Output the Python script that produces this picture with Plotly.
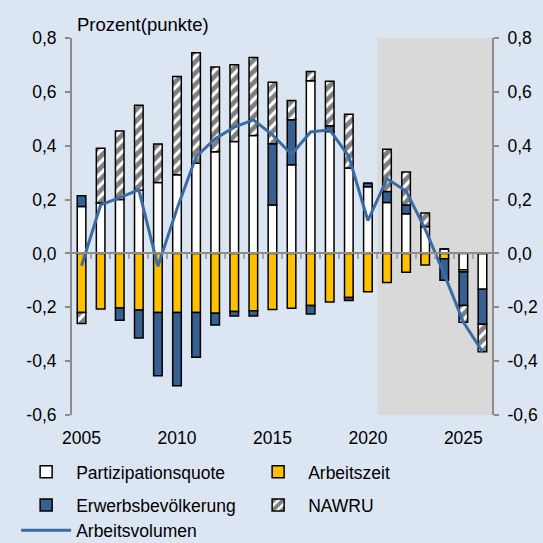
import plotly.graph_objects as go

# Jahre und Beiträge (Prozentpunkte)
jahre = list(range(2005, 2027))
partizipation = [0.174, 0.187, 0.200, 0.235, 0.263, 0.292, 0.335, 0.378, 0.416, 0.438, 0.180,
                 0.329, 0.641, 0.453, 0.317, 0.248, 0.189, 0.147, 0.100, 0.016, -0.061, -0.133]
arbeitszeit = [-0.219, -0.206, -0.203, -0.210, -0.219, -0.219, -0.219, -0.222, -0.216, -0.213, -0.208,
               -0.204, -0.193, -0.180, -0.164, -0.142, -0.108, -0.070, -0.043, -0.020, -0.008, 0.0]
erwerbsbev = [0.040, 0.0, -0.045, -0.104, -0.235, -0.272, -0.167, -0.044, -0.016, -0.019, 0.227,
              0.167, -0.032, 0.021, -0.011, 0.013, 0.041, 0.033, 0.0, -0.080, -0.124, -0.130]
nawru = [-0.041, 0.204, 0.255, 0.315, 0.143, 0.365, 0.410, 0.314, 0.285, 0.290, 0.229,
         0.072, 0.035, 0.165, 0.200, 0.0, 0.157, 0.122, 0.050, 0.0, -0.063, -0.102]
arbeitsvolumen = [-0.046, 0.18, 0.207, 0.236, -0.048, 0.166, 0.359, 0.426, 0.469, 0.496, 0.44,
                  0.368, 0.451, 0.459, 0.36, 0.122, 0.277, 0.232, 0.09, -0.078, -0.255, -0.365]

y_ticks = [-0.6, -0.4, -0.2, 0.0, 0.2, 0.4, 0.6, 0.8]
y_labels = ['-0,6', '-0,4', '-0,2', '0,0', '0,2', '0,4', '0,6', '0,8']
x_labels = [2005, 2010, 2015, 2020, 2025]
prognose_start = 2020.5

bg = '#DCE6F2'
schrift = dict(family='Liberation Sans, Arial, sans-serif', size=17.5, color='black')
rand = dict(color='black', width=1.5)

fig = go.Figure()
fig.add_trace(go.Bar(x=jahre, y=partizipation, name='Partizipationsquote', width=0.45,
                     marker=dict(color='white', line=rand), legend='legend'))
fig.add_trace(go.Bar(x=jahre, y=arbeitszeit, name='Arbeitszeit', width=0.45,
                     marker=dict(color='#FFC000', line=rand), legend='legend'))
fig.add_trace(go.Bar(x=jahre, y=erwerbsbev, name='Erwerbsbevölkerung', width=0.45,
                     marker=dict(color='#36608F', line=rand), legend='legend2'))
fig.add_trace(go.Bar(x=jahre, y=nawru, name='NAWRU', width=0.45,
                     marker=dict(color='white', line=rand,
                                 pattern=dict(shape='/', fgcolor='black', bgcolor='white',
                                              size=8, solidity=0.6)),
                     legend='legend2'))
fig.add_trace(go.Scatter(x=jahre, y=arbeitsvolumen, name='Arbeitsvolumen', mode='lines',
                         line=dict(color='#3B6BA5', width=3), xaxis='x2', yaxis='y2',
                         legend='legend3'))

# Prognosezeitraum grau hinterlegt
fig.add_shape(type='rect', xref='x', yref='y', x0=prognose_start, x1=jahre[-1] + 0.5,
              y0=y_ticks[0], y1=y_ticks[-1], fillcolor='#D9D9D9', line=dict(width=0),
              layer='below')

fig.add_annotation(text='Prozent(punkte)', xref='paper', yref='paper', x=0.0, y=1.0,
                   xanchor='left', yanchor='bottom', xshift=3, yshift=1, showarrow=False,
                   font=dict(schrift, size=18.5))

achse = dict(showgrid=False, zeroline=False, color='black')
zero_pos = (0 - y_ticks[0]) / (y_ticks[-1] - y_ticks[0])


def legende(y):
    return dict(orientation='h', x=-0.133, y=y, xanchor='left', yanchor='middle',
                entrywidth=167, entrywidthmode='pixels', itemwidth=50,
                bgcolor='rgba(0,0,0,0)', font=schrift)


fig.update_layout(
    width=543, height=543,
    margin=dict(l=72, r=51, t=38, b=128, autoexpand=False),
    paper_bgcolor=bg, plot_bgcolor=bg,
    font=schrift,
    barmode='relative',
    showlegend=True,
    legend=legende(-0.151),
    legend2=legende(-0.239),
    legend3=legende(-0.306),
    xaxis=dict(achse, range=[jahre[0] - 0.5, jahre[-1] + 0.5], anchor='free', position=zero_pos,
               showline=True, linecolor='#8C8C8C', linewidth=2,
               tickmode='array', tickvals=[j + 0.5 for j in jahre[:-1]],
               ticks='outside', ticklen=5, tickwidth=2, tickcolor='#A6A6A6',
               showticklabels=False),
    xaxis2=dict(achse, overlaying='x', matches='x', anchor='y2', side='bottom',
                tickmode='array', tickvals=x_labels, ticks='', showline=False,
                ticklabelstandoff=10),
    yaxis=dict(achse, range=[y_ticks[0], y_ticks[-1]], tickmode='array', tickvals=y_ticks,
               ticktext=y_labels, showline=True, linecolor='#8C8C8C', linewidth=2,
               ticks='outside', ticklen=5, tickwidth=2, tickcolor='#8C8C8C',
               ticklabelstandoff=5),
    yaxis2=dict(achse, overlaying='y', matches='y', side='right', tickmode='array',
                tickvals=y_ticks, ticktext=y_labels, showline=True, linecolor='#8C8C8C',
                linewidth=2, ticks='outside', ticklen=5, tickwidth=2, tickcolor='#8C8C8C',
                ticklabelstandoff=5),
)

# Seitenrand des Browsers entfernen, damit die Grafik bei (0,0) beginnt
fig.write_html('out.html', config={'displayModeBar': False},
               post_script="document.body.style.margin='0';")
